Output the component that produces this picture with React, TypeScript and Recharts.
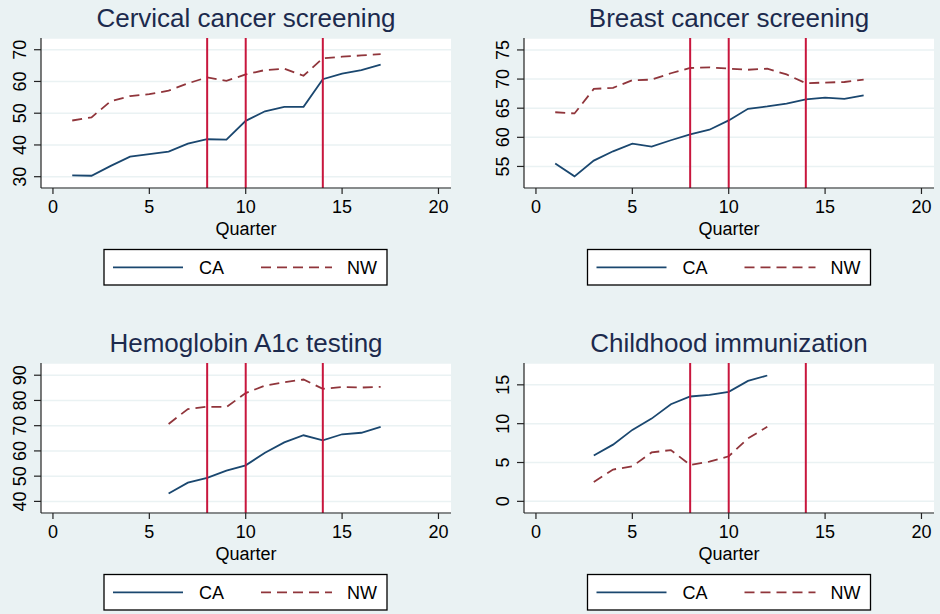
import React from 'react';
import { LineChart, Line, XAxis, YAxis, CartesianGrid, ReferenceLine } from 'recharts';

const FONT = '"Liberation Sans", Arial, Helvetica, sans-serif';

// ---- data ----
const cervicalQuarters = [1, 2, 3, 4, 5, 6, 7, 8, 9, 10, 11, 12, 13, 14, 15, 16, 17];
const cervicalCA = [30.4, 30.3, 33.4, 36.3, 37.1, 37.9, 40.4, 41.8, 41.7, 47.6, 50.6, 52.0, 52.0, 60.7, 62.5, 63.6, 65.3];
const cervicalNW = [47.7, 48.7, 53.8, 55.4, 56.0, 57.1, 59.4, 61.3, 60.2, 62.2, 63.6, 64.0, 61.8, 67.3, 67.8, 68.2, 68.6];
const cervicalTicks = [30, 40, 50, 60, 70];

const breastQuarters = [1, 2, 3, 4, 5, 6, 7, 8, 9, 10, 11, 12, 13, 14, 15, 16, 17];
const breastCA = [55.5, 53.3, 56.0, 57.6, 58.9, 58.4, 59.5, 60.5, 61.3, 62.9, 64.9, 65.3, 65.8, 66.5, 66.8, 66.6, 67.2];
const breastNW = [64.3, 64.1, 68.3, 68.5, 69.8, 69.9, 71.0, 71.9, 72.0, 71.8, 71.6, 71.8, 70.8, 69.3, 69.4, 69.5, 69.9];
const breastTicks = [55, 60, 65, 70, 75];

const hba1cQuarters = [6, 7, 8, 9, 10, 11, 12, 13, 14, 15, 16, 17];
const hba1cCA = [43.1, 47.4, 49.3, 52.2, 54.3, 59.3, 63.4, 66.2, 64.2, 66.6, 67.2, 69.5];
const hba1cNW = [70.7, 76.6, 77.5, 77.4, 82.9, 85.9, 87.2, 88.3, 84.6, 85.3, 85.1, 85.4];
const hba1cTicks = [40, 50, 60, 70, 80, 90];

const immunQuarters = [3, 4, 5, 6, 7, 8, 9, 10, 11, 12];
const immunCA = [5.9, 7.3, 9.2, 10.65, 12.5, 13.5, 13.7, 14.1, 15.5, 16.2];
const immunNW = [2.5, 4.1, 4.5, 6.3, 6.6, 4.7, 5.1, 5.8, 8.1, 9.6];
const immunTicks = [0, 5, 10, 15];

const quarterTicks = [0, 5, 10, 15, 20];
const interventionQuarters = [8, 10, 14];
const seriesNames = ['CA', 'NW'];

// ---- styles ----
const BG = '#eaf2f3';
const CA_COLOR = '#1a476f';
const NW_COLOR = '#90353b';
const REF_COLOR = '#c8163d';
const AXIS_COLOR = '#222';
const TITLE_COLOR = '#1c2a4d';
const LINE_W = 1.8;

const build = (qs: number[], ca: number[], nw: number[]) =>
  qs.map((q, i) => ({ q, ca: ca[i], nw: nw[i] }));

function YTick(props: any) {
  const { x, y, payload } = props;
  return (
    <text
      x={x}
      y={y}
      transform={`rotate(-90 ${x} ${y})`}
      textAnchor="middle"
      fontSize={18}
      fill="#000"
      fontFamily={FONT}
    >
      {payload.value}
    </text>
  );
}

type PanelProps = {
  left: number;
  top: number;
  yAxisWidth: number;
  rightMargin: number;
  yDomain: [number, number];
  yTicks: number[];
  data: { q: number; ca: number; nw: number }[];
};

const CHART_H = 300;
const PLOT_TOP = 38;
const PLOT_H = 150;
const XAXIS_H = 50;

function Panel({ left, top, yAxisWidth, rightMargin, yDomain, yTicks, data }: PanelProps) {
  return (
    <div style={{ position: 'absolute', left, top, width: 470, height: CHART_H }}>
      <LineChart
        width={470}
        height={CHART_H}
        data={data}
        margin={{ top: PLOT_TOP, right: rightMargin, left: 0, bottom: CHART_H - PLOT_TOP - PLOT_H - XAXIS_H }}
      >
        <CartesianGrid
          horizontal
          vertical={false}
          stroke={BG}
          strokeWidth={1.5}
          fill="#ffffff"
          fillOpacity={1}
        />
        <XAxis
          type="number"
          dataKey="q"
          domain={[-0.62, 20.65]}
          ticks={quarterTicks}
          allowDataOverflow
          height={XAXIS_H}
          tickSize={6}
          tickMargin={6}
          stroke={AXIS_COLOR}
          tick={{ fontSize: 18, fill: '#000', fontFamily: FONT }}
          axisLine={{ stroke: AXIS_COLOR, strokeWidth: 1.2 }}
          tickLine={{ stroke: AXIS_COLOR, strokeWidth: 1.2 }}
          label={{ value: 'Quarter', position: 'insideBottom', offset: 3, fontSize: 18, fill: '#000', fontFamily: FONT }}
        />
        <YAxis
          type="number"
          domain={yDomain}
          ticks={yTicks}
          allowDataOverflow
          width={yAxisWidth}
          tickSize={7}
          tickMargin={8}
          stroke={AXIS_COLOR}
          tick={<YTick />}
          axisLine={{ stroke: AXIS_COLOR, strokeWidth: 1.2 }}
          tickLine={{ stroke: AXIS_COLOR, strokeWidth: 1.2 }}
        />
        <Line
          type="linear"
          dataKey="ca"
          stroke={CA_COLOR}
          strokeWidth={LINE_W}
          dot={false}
          activeDot={false}
          isAnimationActive={false}
        />
        <Line
          type="linear"
          dataKey="nw"
          stroke={NW_COLOR}
          strokeWidth={LINE_W}
          strokeDasharray="10 6"
          dot={false}
          activeDot={false}
          isAnimationActive={false}
        />
        {interventionQuarters.map((q) => (
          <ReferenceLine key={q} x={q} stroke={REF_COLOR} strokeWidth={2} />
        ))}
      </LineChart>
    </div>
  );
}

function Legend({ x, y }: { x: number; y: number }) {
  return (
    <g>
      <rect x={x} y={y} width={283} height={35.5} fill="#fff" stroke="#000" strokeWidth={1.3} />
      <line x1={x + 9} x2={x + 79} y1={y + 17.8} y2={y + 17.8} stroke={CA_COLOR} strokeWidth={LINE_W} />
      <text x={x + 95} y={y + 24.3} fontSize={18} fontFamily={FONT} fill="#000">{seriesNames[0]}</text>
      <line x1={x + 157} x2={x + 228} y1={y + 17.8} y2={y + 17.8} stroke={NW_COLOR} strokeWidth={LINE_W} strokeDasharray="10 6" />
      <text x={x + 243} y={y + 24.3} fontSize={18} fontFamily={FONT} fill="#000">{seriesNames[1]}</text>
    </g>
  );
}

function Title({ cx, y, text }: { cx: number; y: number; text: string }) {
  return (
    <text x={cx} y={y} textAnchor="middle" fontSize={26} fontFamily={FONT} fill={TITLE_COLOR}>
      {text}
    </text>
  );
}

export default function App() {
  const cervical = build(cervicalQuarters, cervicalCA, cervicalNW);
  const breast = build(breastQuarters, breastCA, breastNW);
  const hba1c = build(hba1cQuarters, hba1cCA, hba1cNW);
  const immun = build(immunQuarters, immunCA, immunNW);
  const DY = 325;
  return (
    <div style={{ position: 'absolute', left: 0, top: 0, width: 940, height: 614, background: BG, overflow: 'hidden', fontFamily: FONT }}>
      <svg width={940} height={614} style={{ position: 'absolute', left: 0, top: 0 }}>
        <Title cx={246} y={27.3} text="Cervical cancer screening" />
        <Title cx={729} y={27.3} text="Breast cancer screening" />
        <Title cx={246} y={27.3 + DY} text="Hemoglobin A1c testing" />
        <Title cx={729} y={27.3 + DY} text="Childhood immunization" />
        <Legend x={104} y={249.5} />
        <Legend x={587.5} y={249.5} />
        <Legend x={104} y={249.5 + DY} />
        <Legend x={587.5} y={249.5 + DY} />
      </svg>
      <Panel left={0} top={0} yAxisWidth={41} rightMargin={19} yDomain={[26.44, 73.69]} yTicks={cervicalTicks} data={cervical} />
      <Panel left={470} top={0} yAxisWidth={54} rightMargin={6} yDomain={[51.3, 77.05]} yTicks={breastTicks} data={breast} />
      <Panel left={0} top={DY} yAxisWidth={41} rightMargin={19} yDomain={[35.4, 94.84]} yTicks={hba1cTicks} data={hba1c} />
      <Panel left={470} top={DY} yAxisWidth={54} rightMargin={6} yDomain={[-1.5, 17.81]} yTicks={immunTicks} data={immun} />
    </div>
  );
}
